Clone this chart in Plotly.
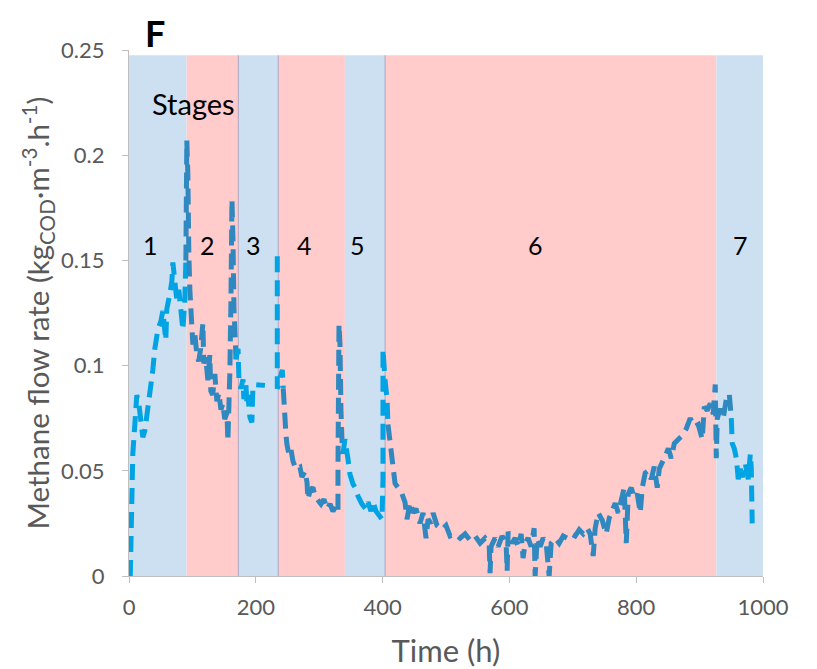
import plotly.graph_objects as go

# ---------------- data ----------------
stage_bounds = [0, 91, 172.5, 235.5, 340.5, 404, 926.5, 1000]
stage_names = ["1", "2", "3", "4", "5", "6", "7"]
stage_label_time = [34, 124, 196, 277, 360, 641, 964]

# methane flow rate, split into pieces by stage colouring (None = missing data)
seg1_time = [2.0, 2.8, 5.2, 6.0, 9.2, 12.3, 15.5, 18.6, 21.8, 25.0, 29.7, 32.8, 37.6, 40.7,
             45.5, 50.2, 53.4, 58.0, 59.7, 64.4, 67.6, 69.2, 72.3, 75.5, 78.6, 81.8, 85.0,
             88.0, 89.7]
seg1_rate = [0.000, 0.018, 0.037, 0.058, 0.072, 0.086, 0.082, 0.072, 0.066, 0.069, 0.079,
             0.086, 0.098, 0.108, 0.117, 0.121, 0.126, 0.112, 0.127, 0.134, 0.140, 0.149,
             0.139, 0.131, 0.136, 0.127, 0.117, 0.131, 0.150]

seg2_time = [89.7, 91.2, 92.8, 92.8, 94.4, 96.0, 97.6, 100.7, 103.9, 107.0, 110.0, 113.0,
             116.5, 118.0, 121.0, 124.4, 127.5, 129.0, 132.0, 135.4, 138.6, 141.8, 145.0,
             148.0, 151.0, 154.5, 156.0, 157.6, 159.0, 160.8, 160.8, 162.4, 164.0, 164.0,
             165.6, 167.0, 168.7]
seg2_rate = [0.150, 0.207, 0.191, 0.172, 0.153, 0.136, 0.122, 0.110, 0.115, 0.105, 0.102,
             0.108, 0.120, 0.101, 0.104, 0.093, 0.105, 0.088, 0.086, 0.096, 0.083, 0.087,
             0.079, 0.082, 0.0745, 0.0775, 0.064, 0.079, 0.096, 0.131, 0.169, 0.179, 0.160,
             0.141, 0.127, 0.117, 0.103]

seg3_time = [168.7, 172.0, 173.4, 176.5, 179.8, 181.2, 184.4, 186.0, 187.5, 190.7, 193.8,
             195.4, 198.6, 214.4, None, 233.9, 233.9, 235.4, 233.9, 235.4, 233.9, 241.8,
             243.3]
seg3_rate = [0.103, 0.108, 0.0935, 0.089, 0.0935, 0.084, 0.091, 0.0816, 0.086, 0.0755, 0.073,
             0.089, 0.091, 0.0906, None, 0.152, 0.136, 0.122, 0.110, 0.096, 0.089, 0.098,
             0.089]

seg4_time = [243.3, 244.4, 247.5, 249.1, 252.2, 255.4, 258.6, 263.3, 269.6, 272.8, 277.5,
             280.7, 282.3, 285.4, 290.1, 293.3, 298.0, 302.8, 307.5, 312.3, 317.0, 321.7,
             326.5, 329.6, 329.6, 329.6, 331.2, 329.6, 331.2, 332.8, 332.8, 334.3, 335.9,
             337.5]
seg4_rate = [0.089, 0.079, 0.0674, 0.0626, 0.0579, 0.0603, 0.0546, 0.0508, 0.0517, 0.047,
             0.0498, 0.0446, 0.0365, 0.0403, 0.0422, 0.038, 0.0365, 0.0342, 0.0365, 0.0318,
             0.0342, 0.0308, 0.0332, 0.0308, 0.0508, 0.0698, 0.0864, 0.103, 0.1196, 0.110,
             0.0935, 0.079, 0.065, 0.058]

seg5_time = [337.5, 340.6, 345.4, 348.5, 353.3, 358.0, 361.2, 367.5, 373.8, 377.0, 381.7,
             384.8, 389.6, 395.9, 399.0, 400.6, 400.6, 400.6, 403.8, 407.0, 408.5]
seg5_rate = [0.058, 0.065, 0.0555, 0.0484, 0.0437, 0.0413, 0.038, 0.0342, 0.0318, 0.0351,
             0.0308, 0.0356, 0.0308, 0.028, 0.027, 0.046, 0.0745, 0.1077, 0.0935, 0.084,
             0.072]

seg6_time = [408.5, 411.7, 414.8, 419.6, 424.3, 430.6, 435.4, 438.5, 443.3, 448.0, 452.7,
             459.0, 463.8, 468.5, 471.7, 476.4, 479.6, 485.9, 493.8, 500.1, 506.4, 514.3,
             522.2, 530.1, 538.0, 545.9, 553.8, 561.6, 568.0, 569.5, 571.1, 577.4, 582.2,
             588.5, 594.8, 596.4, 598.0, 604.3, 609.0, 613.7, 618.5, 621.6, 624.8, 629.5,
             634.3, 639.0, 640.6, 643.8, 648.5, 653.2, 658.0, 662.7, 665.9, 672.2, 678.5,
             684.8, 691.1, 697.4, 703.7, 710.1, 716.4, 722.7, 727.4, 732.2, 735.3, 740.1,
             746.4, 752.7, 757.4, 762.2, 766.9, 771.7, 776.4, 781.1, 784.3, 787.5, 792.2,
             796.9, 801.7, 806.4, 809.6, 814.2, 819.0, 823.7, 828.5, 833.2, 836.4, 841.1,
             845.9, 850.6, 855.3, 860.1, 866.4, 872.7, 879.0, 885.3, 891.6, 897.9, 904.2,
             907.4, 912.1, 916.8, 921.6, 924.7, 926.3, 927.9, 932.6, 937.3, 942.1, 946.8,
             950.0]
seg6_rate = [0.072, 0.063, 0.056, 0.044, 0.042, 0.039, 0.035, 0.027, 0.035, 0.030, 0.032,
             0.025, 0.030, 0.018, 0.027, 0.025, 0.030, 0.024, 0.022, 0.024, 0.019, 0.020,
             0.018, 0.020, 0.017, 0.019, 0.0156, 0.018, 0.0156, 0.0014, 0.014, 0.018, 0.014,
             0.019, 0.0156, 0.0024, 0.021, 0.0156, 0.018, 0.014, 0.020, 0.0085, 0.0156,
             0.018, 0.014, 0.0227, 0.000, 0.018, 0.014, 0.018, 0.0156, 0.000, 0.0156, 0.018,
             0.0156, 0.019, 0.018, 0.020, 0.019, 0.022, 0.020, 0.0227, 0.020, 0.0095, 0.0227,
             0.030, 0.0265, 0.020, 0.0275, 0.032, 0.0346, 0.030, 0.037, 0.042, 0.0156, 0.039,
             0.042, 0.037, 0.039, 0.030, 0.042, 0.049, 0.050, 0.046, 0.052, 0.042, 0.051,
             0.0535, 0.057, 0.0606, 0.056, 0.063, 0.065, 0.0668, 0.070, 0.075, 0.071, 0.072,
             0.065, 0.0805, 0.0786, 0.082, 0.077, 0.091, 0.056, 0.075, 0.0795, 0.075, 0.084,
             0.0866, 0.075]

seg7_time = [950.0, 951.5, 954.7, 957.9, 961.0, 964.2, 967.3, 972.0, 976.8, 980.0, 981.5,
             983.0, 983.0]
seg7_rate = [0.075, 0.063, 0.0606, 0.056, 0.046, 0.051, 0.047, 0.0535, 0.046, 0.058, 0.051,
             0.037, 0.025]

y_ticks = [0, 0.05, 0.1, 0.15, 0.2, 0.25]
y_tick_text = ["0", "0.05", "0.1", "0.15", "0.2", "0.25"]
x_ticks = [0, 200, 400, 600, 800, 1000]

# ---------------- styles ----------------
FONT = "Lato"
GREY = "#595959"
AXIS = "#BFBFBF"
BRIGHT = "#00A3E4"
DARK = "#2F89C0"
BAND_BLUE = "#CCE0F1"
BAND_PINK = "#FFCBCB"

segments = [
    (seg1_time, seg1_rate, BRIGHT),
    (seg2_time, seg2_rate, DARK),
    (seg3_time, seg3_rate, BRIGHT),
    (seg4_time, seg4_rate, DARK),
    (seg5_time, seg5_rate, BRIGHT),
    (seg6_time, seg6_rate, DARK),
    (seg7_time, seg7_rate, BRIGHT),
]

fig = go.Figure()
for t, r, c in segments:
    fig.add_trace(go.Scatter(
        x=t, y=r, mode="lines", connectgaps=False, showlegend=False, hoverinfo="skip",
        line=dict(color=c, width=5, dash="16px,8px"),
    ))

shapes = []
for i in range(len(stage_names)):
    shapes.append(dict(
        type="rect", xref="x", yref="y", x0=stage_bounds[i], x1=stage_bounds[i + 1],
        y0=0, y1=0.2475, fillcolor=BAND_BLUE if i % 2 == 0 else BAND_PINK,
        line=dict(width=0), layer="below",
    ))
for b in [stage_bounds[2], stage_bounds[3], stage_bounds[5]]:
    shapes.append(dict(
        type="line", xref="x", yref="y", x0=b, x1=b, y0=0, y1=0.2475,
        line=dict(color="rgba(170,160,190,0.8)", width=1.2), layer="below",
    ))

annotations = []
for name, t in zip(stage_names, stage_label_time):
    annotations.append(dict(
        x=t, y=0.1575, xref="x", yref="y", text=name, showarrow=False,
        font=dict(family=FONT, size=25, color="black"),
    ))
annotations.append(dict(
    x=101.5, y=0.2245, xref="x", yref="y", text="Stages", showarrow=False,
    font=dict(family=FONT, size=29, color="black"),
))
annotations.append(dict(
    x=0.0407, y=1.078, xref="paper", yref="paper", text="<b>F</b>", showarrow=False,
    font=dict(family=FONT, size=36, color="black"), xanchor="center", yanchor="top",
))

# the page body has an 8px margin, so the figure is drawn 8px right and down
fig.update_layout(
    width=809, height=661, autosize=False,
    margin=dict(l=121, r=54, t=42, b=93, pad=0),
    paper_bgcolor="white", plot_bgcolor="white",
    font=dict(family=FONT, color=GREY),
    shapes=shapes, annotations=annotations,
    xaxis=dict(
        range=[0, 1000], tickvals=x_ticks, showgrid=False, zeroline=False, automargin=False,
        showline=True, linecolor=AXIS, linewidth=1.2, ticks="outside", ticklen=6,
        tickcolor=AXIS, tickwidth=1.2, tickfont=dict(family=FONT, size=22, color=GREY),
        ticklabelstandoff=5,
        title=dict(text="Time (h)", font=dict(family=FONT, size=31, color=GREY), standoff=21),
    ),
    yaxis=dict(
        range=[0, 0.25], tickvals=y_ticks, ticktext=y_tick_text, showgrid=False,
        zeroline=False, automargin=False, showline=True, linecolor=AXIS, linewidth=1.2,
        ticks="outside", ticklen=6, tickcolor=AXIS, tickwidth=1.2,
        tickfont=dict(family=FONT, size=22, color=GREY), ticklabelstandoff=13,
        title=dict(text="Methane flow rate (kg<sub>COD</sub>·m<sup>-3</sup>.h<sup>-1</sup>)",
                   font=dict(family=FONT, size=29.5, color=GREY), standoff=2),
    ),
)

fig.write_html("out.html")
